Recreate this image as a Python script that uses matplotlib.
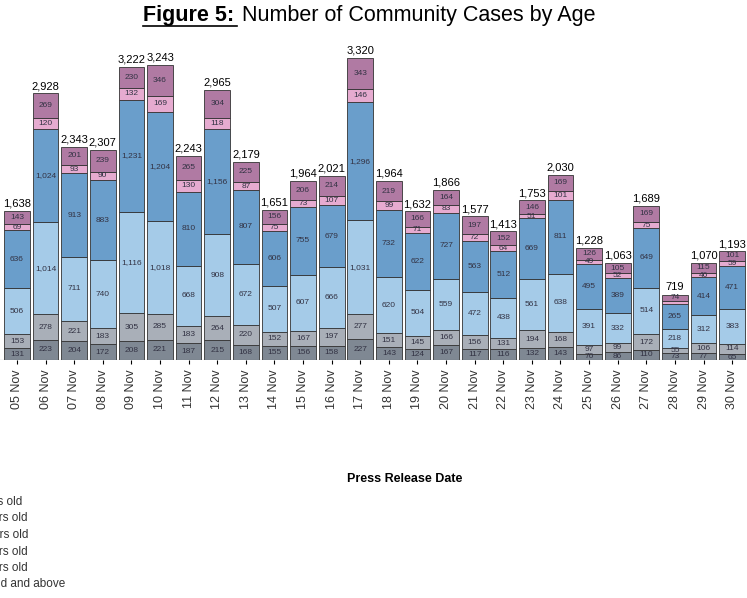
import numpy as np
import matplotlib.pyplot as plt
from matplotlib.lines import Line2D

dates = ['05 Nov', '06 Nov', '07 Nov', '08 Nov', '09 Nov', '10 Nov', '11 Nov', '12 Nov', '13 Nov',
         '14 Nov', '15 Nov', '16 Nov', '17 Nov', '18 Nov', '19 Nov', '20 Nov', '21 Nov', '22 Nov',
         '23 Nov', '24 Nov', '25 Nov', '26 Nov', '27 Nov', '28 Nov', '29 Nov', '30 Nov']
# segments from bottom to top
s1 = [131, 223, 204, 172, 208, 221, 187, 215, 168, 155, 156, 158, 227, 143, 124, 167, 117, 116, 132, 143, 70, 86, 110, 73, 77, 65]
s2 = [153, 278, 221, 183, 305, 285, 183, 264, 220, 152, 167, 197, 277, 151, 145, 166, 156, 131, 194, 168, 97, 99, 172, 55, 106, 114]
s3 = [506, 1014, 711, 740, 1116, 1018, 668, 908, 672, 507, 607, 666, 1031, 620, 504, 559, 472, 438, 561, 638, 391, 332, 514, 218, 312, 383]
s4 = [636, 1024, 913, 883, 1231, 1204, 810, 1156, 807, 606, 755, 679, 1296, 732, 622, 727, 563, 512, 669, 811, 495, 389, 649, 265, 414, 471]
s5 = [69, 120, 93, 90, 132, 169, 130, 118, 87, 75, 73, 107, 146, 99, 71, 83, 72, 64, 51, 101, 49, 52, 75, 34, 46, 59]
s6 = [143, 269, 201, 239, 230, 346, 265, 304, 225, 156, 206, 214, 343, 219, 166, 164, 197, 152, 146, 169, 126, 105, 169, 74, 115, 101]
series = [s1, s2, s3, s4, s5, s6]
colors = ['#7f8893', '#a9afb8', '#a5cbe8', '#6a9ecb', '#e6abd0', '#b07aa3']
legend_labels = ['0 - 11 years old', '12 - 19 years old', '20 - 39 years old',
                 '40 - 59 years old', '60 - 69 years old', '70 years old and above']

plt.rcParams['font.family'] = ['Liberation Sans', 'DejaVu Sans']
fig = plt.figure(figsize=(7.47, 5.98), dpi=100)
ax = fig.add_axes([0, 0.398, 1, 0.548])

x = np.arange(len(dates))
bottom = np.zeros(len(dates))
for vals, c in zip(series, colors):
    vals = np.array(vals)
    ax.bar(x, vals, 0.9, bottom=bottom, color=c, edgecolor='#333333', linewidth=0.6)
    for xi, b, v in zip(x, bottom, vals):
        if v >= 45:
            ax.text(xi, b + v / 2, f'{v:,}', ha='center', va='center', fontsize=6, color='#333344')
    bottom += vals
for xi, t in zip(x, bottom):
    ax.text(xi, t + 25, f'{int(t):,}', ha='center', va='bottom', fontsize=8)

ax.set_xticks(np.arange(-1, len(dates)))
ax.set_xticklabels(['04 Nov'] + dates, rotation=90, fontsize=9, color='#333333')
ax.tick_params(axis='x', length=3)
ax.set_xlim(-0.594, 25.52)
ax.set_ylim(0, 3600)
ax.set_yticks([])
for sp in ax.spines.values():
    sp.set_visible(False)
ax.axhline(0, color='#666666', lw=0.8)
ax.set_xlabel('Press Release Date', fontsize=9, fontweight='bold')
ax.xaxis.set_label_coords(405 / 747, -0.345)

fig.text(143 / 747, 1 - 16 / 598, 'Figure 5:', fontsize=15.5, fontweight='bold', va='center')
fig.text(242 / 747, 1 - 16 / 598, 'Number of Community Cases by Age', fontsize=15.5, va='center')
fig.add_artist(Line2D([143 / 747, 237 / 747], [1 - 26 / 598] * 2, color='black', lw=1.2))

ends = [22, 28, 28, 28, 28, 65]
for i, (lab, e) in enumerate(zip(legend_labels, ends)):
    fig.text(e / 747, 1 - (502 + i * 16.5) / 598, lab, fontsize=8.5, ha='right', va='center', color='#333333')

fig.savefig('out.png', dpi=100)
